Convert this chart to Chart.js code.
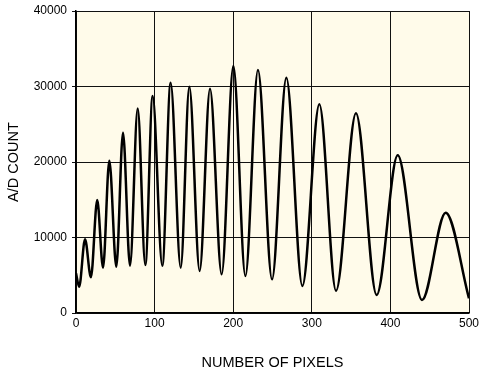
<!DOCTYPE html>
<html>
<head>
<meta charset="utf-8">
<script src="https://cdn.jsdelivr.net/npm/chart.js@4"></script>
<style>
html,body{margin:0;padding:0;background:#fff;}
#wrap{width:480px;height:374px;}
</style>
</head>
<body>
<div id="wrap"><canvas id="c" width="480" height="374"></canvas></div>
<script>
// Pixel positions of the curve's turning points
const pixelIndex = [0, 4, 11.5, 19, 27, 34.4, 42.4, 51.3, 59.8, 68.7, 78.5, 88.2, 97.5, 109.8, 120.4, 133.2, 144.2, 157.3, 170.5, 185.3, 200.2, 215.5, 231.5, 249.4, 267.6, 288, 309.6, 330.8, 356.2, 382.5, 409.3, 440.2, 470.3, 500];
// A/D counts at those pixels
const adCount = [5260, 3480, 9760, 4730, 14970, 6000, 20170, 6130, 23880, 6270, 27100, 6360, 28740, 6270, 30500, 6000, 29980, 5560, 29710, 5120, 32710, 4900, 32190, 4460, 31170, 3580, 27640, 2960, 26450, 2380, 20880, 1720, 13290, 1940];
const xTicks = [0, 100, 200, 300, 400, 500];
const yTicks = [0, 10000, 20000, 30000, 40000];

const points = pixelIndex.map((x, i) => ({x: x, y: adCount[i]}));

const bgPlugin = {
  id: 'plotBg',
  beforeDraw(chart) {
    const a = chart.chartArea, ctx = chart.ctx;
    ctx.save();
    ctx.fillStyle = '#fffbea';
    ctx.fillRect(a.left, a.top, a.right - a.left, a.bottom - a.top);
    ctx.restore();
  }
};

const tickFont = {family: 'Liberation Sans, Arial, sans-serif', size: 12};
const titleFont = {family: 'Liberation Sans, Arial, sans-serif', size: 14.5};

new Chart(document.getElementById('c'), {
  type: 'line',
  data: {
    datasets: [{
      data: points,
      borderColor: '#000',
      borderWidth: 2.5,
      pointRadius: 0,
      fill: false,
      cubicInterpolationMode: 'monotone'
    }]
  },
  options: {
    responsive: false,
    animation: false,
    devicePixelRatio: 1,
    layout: {padding: {left: 0, right: 11, top: 11, bottom: 0}},
    plugins: {legend: {display: false}, tooltip: {enabled: false}},
    scales: {
      x: {
        type: 'linear',
        min: 0, max: 500,
        afterBuildTicks(s) { s.ticks = xTicks.map(v => ({value: v})); },
        afterFit(s) { s.height = 61; s.paddingLeft = 0; s.paddingRight = 0; },
        ticks: {color: '#000', font: tickFont, padding: 3, maxRotation: 0, autoSkip: false},
        grid: {color: '#111', lineWidth: 1, drawTicks: false},
        border: {display: true, color: '#000', width: 1.5},
        title: {display: true, text: 'NUMBER OF PIXELS', color: '#000', font: titleFont, padding: {top: 0, bottom: 2}}
      },
      y: {
        min: 0, max: 40000,
        afterBuildTicks(s) { s.ticks = yTicks.map(v => ({value: v})); },
        afterFit(s) { s.width = 76; s.paddingTop = 0; s.paddingBottom = 0; },
        ticks: {color: '#000', font: tickFont, padding: 5, autoSkip: false, callback: v => String(v)},
        grid: {color: '#111', lineWidth: 1, drawTicks: true, tickLength: 4},
        border: {display: true, color: '#000', width: 1.5},
        title: {display: true, text: 'A/D COUNT', color: '#000', font: titleFont, padding: {top: 5, bottom: 0}}
      }
    }
  },
  plugins: [bgPlugin]
});
</script>
</body>
</html>
